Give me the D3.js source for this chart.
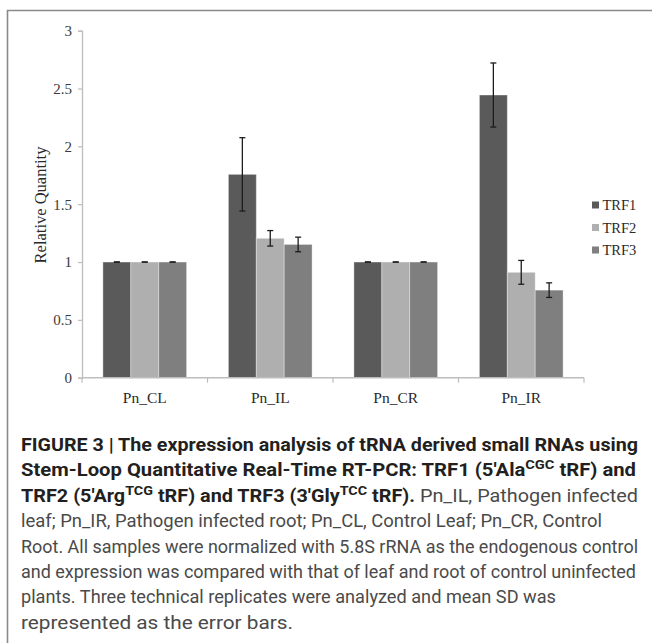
<!DOCTYPE html>
<html>
<head>
<meta charset="utf-8">
<script src="https://cdn.jsdelivr.net/npm/d3@7"></script>
<style>
  body { margin: 0; background: #fff; }
  svg { display: block; }
</style>
</head>
<body>
<div id="chart"></div>
<script>
// ============================
// Data
// ============================
const categories = ["Pn_CL", "Pn_IL", "Pn_CR", "Pn_IR"];
const seriesNames = ["TRF1", "TRF2", "TRF3"];
const trf1 = [1, 1.758, 1, 2.444];
const trf2 = [1, 1.205, 1, 0.911];
const trf3 = [1, 1.152, 1, 0.757];
const err1 = [0, 0.317, 0, 0.277];
const err2 = [0, 0.067, 0, 0.103];
const err3 = [0, 0.063, 0, 0.063];
const yTicks = [0, 0.5, 1, 1.5, 2, 2.5, 3];

const colors = ["#5a5a5a", "#afafaf", "#7f7f7f"];

const width = 652, height = 643;
const svg = d3.select("#chart").append("svg")
  .attr("width", width).attr("height", height);

// outer frame (runs off the right / bottom edge)
svg.append("path")
  .attr("d", `M7.5,${height + 5} V10.5 H${width + 5}`)
  .attr("fill", "none")
  .attr("stroke", "#8a8a8a")
  .attr("stroke-width", 1.6);

// ============================
// Scales
// ============================
const x0 = d3.scaleBand().domain(categories).range([82, 584]).padding(0);
const x1 = d3.scaleBand().domain(seriesNames).range([0, x0.bandwidth()])
  .paddingInner(0).paddingOuter(0.75);
const y = d3.scaleLinear().domain([0, 3]).range([377.7, 30.7]);

const values = [trf1, trf2, trf3];
const errs = [err1, err2, err3];
const data = [];
categories.forEach((c, i) => {
  seriesNames.forEach((s, j) => {
    data.push({cat: c, series: s, v: values[j][i], e: errs[j][i], color: colors[j]});
  });
});

const serif = "'Liberation Serif', 'Times New Roman', serif";

// ============================
// Axes
// ============================
const yAxis = svg.append("g")
  .attr("transform", "translate(82,0)")
  .call(d3.axisLeft(y).tickValues(yTicks).tickSize(4).tickPadding(6)
    .tickFormat(d => d3.format("")(d)));
yAxis.select(".domain").attr("stroke", "#bdbdbd").attr("stroke-width", 1.3);
yAxis.selectAll(".tick line").attr("stroke", "#bdbdbd").attr("stroke-width", 1.2);
yAxis.selectAll(".tick text")
  .attr("font-family", serif).attr("font-size", 15).attr("fill", "#3a3a3a");

// bars
svg.append("g").selectAll("rect")
  .data(data)
  .join("rect")
  .attr("x", d => x0(d.cat) + x1(d.series))
  .attr("y", d => y(d.v))
  .attr("width", x1.bandwidth())
  .attr("height", d => y(0) - y(d.v))
  .attr("fill", d => d.color)
  .attr("stroke", "rgba(255,255,255,0.35)")
  .attr("stroke-width", 1);

// x axis line with boundary ticks
const xAxisG = svg.append("g");
xAxisG.append("line")
  .attr("x1", 82).attr("x2", 584)
  .attr("y1", y(0)).attr("y2", y(0))
  .attr("stroke", "#bdbdbd").attr("stroke-width", 1.4);
const bounds = categories.map(c => x0(c)).concat([x0.range()[1]]);
xAxisG.selectAll(".xt")
  .data(bounds)
  .join("line")
  .attr("class", "xt")
  .attr("x1", d => d).attr("x2", d => d)
  .attr("y1", y(0)).attr("y2", y(0) + 5)
  .attr("stroke", "#bdbdbd").attr("stroke-width", 1.2);
xAxisG.selectAll(".xl")
  .data(categories)
  .join("text")
  .attr("class", "xl")
  .attr("x", d => x0(d) + x0.bandwidth() / 2)
  .attr("y", 403)
  .attr("text-anchor", "middle")
  .attr("font-family", serif).attr("font-size", 15.5).attr("fill", "#2a2a2a")
  .text(d => d);

// error bars
const eg = svg.append("g")
  .attr("stroke", "#1c1c1c").attr("stroke-width", 1.3).attr("fill", "none");
data.forEach(d => {
  const cx = x0(d.cat) + x1(d.series) + x1.bandwidth() / 2;
  const yt = y(d.v + d.e), yb = y(d.v - d.e);
  if (d.e > 0) {
    eg.append("line").attr("x1", cx).attr("x2", cx).attr("y1", yt).attr("y2", yb);
  }
  eg.append("line").attr("x1", cx - 3).attr("x2", cx + 3).attr("y1", yt).attr("y2", yt);
  eg.append("line").attr("x1", cx - 3).attr("x2", cx + 3).attr("y1", yb).attr("y2", yb);
});

// y title
svg.append("text")
  .attr("transform", "translate(46,205) rotate(-90)")
  .attr("text-anchor", "middle")
  .attr("font-family", serif).attr("font-size", 16.5).attr("fill", "#2a2a2a")
  .text("Relative Quantity");

// legend
const legend = svg.append("g").selectAll("g")
  .data(seriesNames)
  .join("g")
  .attr("transform", (d, i) => `translate(592,${205 + i * 22.5})`);
legend.append("rect")
  .attr("x", 0).attr("y", -3.5).attr("width", 7).attr("height", 7)
  .attr("fill", (d, i) => colors[i]);
legend.append("text")
  .attr("x", 10.5).attr("y", 5)
  .attr("font-family", serif).attr("font-size", 14.5).attr("fill", "#2a2a2a")
  .text(d => d);

// ============================
// Caption
// ============================
const capFont = "'Liberation Sans Narrow', 'Roboto', 'DejaVu Sans Condensed', sans-serif";
const bold = "#231f20", reg = "#4a4a4a";
// each line: list of [text, bold?, sup?], target width
const captionLines = [
  {w: 617, parts: [["FIGURE 3 | The expression analysis of tRNA derived small RNAs using", 1, 0]]},
  {w: 615, parts: [["Stem-Loop Quantitative Real-Time RT-PCR: TRF1 (5\u2032Ala", 1, 0], ["CGC", 1, 1], [" tRF) and", 1, 0]]},
  {w: 617, parts: [["TRF2 (5\u2032Arg", 1, 0], ["TCG", 1, 1], [" tRF) and TRF3 (3\u2032Gly", 1, 0], ["TCC", 1, 1], [" tRF).", 1, 0], [" Pn_IL, Pathogen infected", 0, 0]]},
  {w: 581, parts: [["leaf; Pn_IR, Pathogen infected root; Pn_CL, Control Leaf; Pn_CR, Control", 0, 0]]},
  {w: 617, parts: [["Root. All samples were normalized with 5.8S rRNA as the endogenous control", 0, 0]]},
  {w: 615, parts: [["and expression was compared with that of leaf and root of control uninfected", 0, 0]]},
  {w: 535, parts: [["plants. Three technical replicates were analyzed and mean SD was", 0, 0]]},
  {w: 272, parts: [["represented as the error bars.", 0, 0]]}
];
const capBase = [451, 476, 502, 527, 553, 578, 603, 629];

captionLines.forEach((ln, i) => {
  const t = svg.append("text")
    .attr("x", 21).attr("y", capBase[i])
    .attr("font-family", capFont).attr("font-size", 18)
    .attr("textLength", ln.w).attr("lengthAdjust", "spacingAndGlyphs");
  let up = false;
  ln.parts.forEach(p => {
    const ts = t.append("tspan")
      .attr("font-weight", p[1] ? "bold" : "normal")
      .attr("fill", p[1] ? bold : reg)
      .text(p[0]);
    if (p[2]) { ts.attr("dy", -7).attr("font-size", 13); up = true; }
    else if (up) { ts.attr("dy", 7); up = false; }
  });
});
</script>
</body>
</html>
